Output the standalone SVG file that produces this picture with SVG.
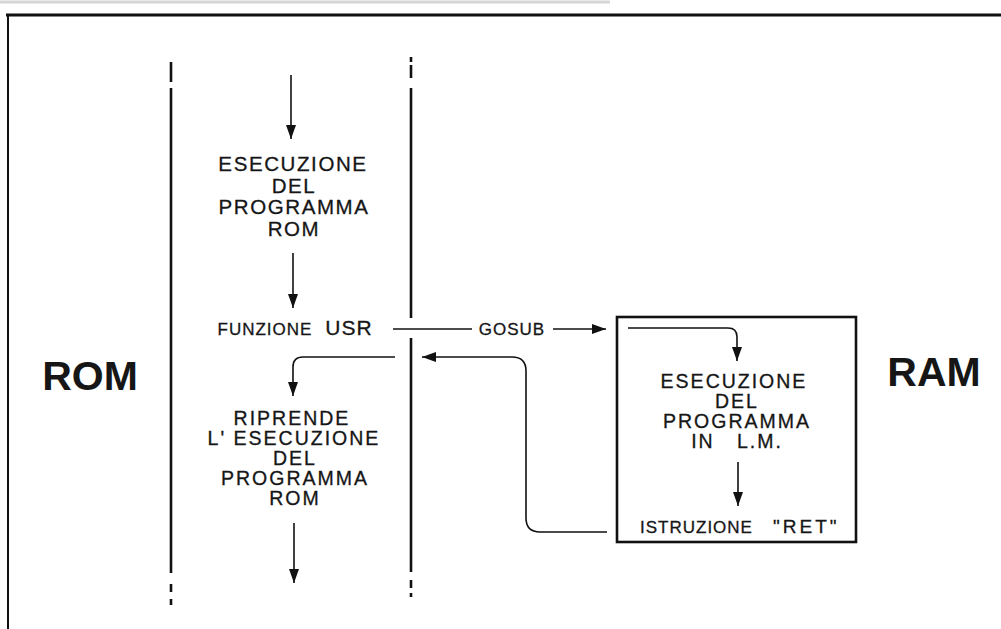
<svg xmlns="http://www.w3.org/2000/svg" width="1001" height="629" viewBox="0 0 1001 629">
<style>
  .ln{stroke:#111;fill:none;stroke-width:1.6}
  .col{stroke:#111;fill:none;stroke-width:2.6}
  .t{font-family:"Liberation Sans",Arial,sans-serif;fill:#161616;stroke:#161616;stroke-width:0.3;text-anchor:middle}
  .st{text-anchor:start}
  .m{font-size:20.5px;letter-spacing:1.6px}
  .n{font-size:19.5px;letter-spacing:2px}
  .s{font-size:17px;letter-spacing:1px}
  .big{font-size:41px;font-weight:bold;stroke-width:0}
</style>
<defs>
  <marker id="ah" markerUnits="userSpaceOnUse" markerWidth="14" markerHeight="10" refX="14" refY="5" orient="auto">
    <path d="M0,0 L14,5 L0,10 z" fill="#111"/>
  </marker>
</defs>
<rect width="1001" height="629" fill="#fff"/>
<line x1="0" y1="2" x2="610" y2="2" stroke="#d6d6d6" stroke-width="3"/>
<g id="frame">
  <line x1="6" y1="15" x2="1001" y2="15" stroke="#111" stroke-width="2.8"/>
  <line x1="8" y1="14" x2="8" y2="629" stroke="#111" stroke-width="2"/>
</g>
<g id="rom-column">
  <line class="col" x1="171" y1="62" x2="171" y2="82"/>
  <line class="col" x1="171" y1="88" x2="171" y2="573"/>
  <line class="col" x1="171" y1="584" x2="171" y2="592"/>
  <line class="col" x1="171" y1="599" x2="171" y2="605"/>
  <line class="col" x1="411" y1="57" x2="411" y2="62"/>
  <line class="col" x1="411" y1="65" x2="411" y2="78"/>
  <line class="col" x1="411" y1="88" x2="411" y2="318"/>
  <line class="col" x1="411" y1="338" x2="411" y2="572"/>
  <line class="col" x1="411" y1="580" x2="411" y2="588"/>
  <line class="col" x1="411" y1="593" x2="411" y2="597"/>
</g>
<g id="label-rom"><text class="t big" x="90" y="390">ROM</text></g>
<g id="label-ram"><text class="t big" x="934" y="386" font-size="44">RAM</text></g>
<g id="node-esecuzione-rom">
  <text class="t m" x="293" y="171">ESECUZIONE</text>
  <text class="t m" x="294" y="193">DEL</text>
  <text class="t m" x="294" y="214">PROGRAMMA</text>
  <text class="t m" x="294" y="236">ROM</text>
</g>
<g id="node-usr">
  <text class="t s" x="265" y="335">FUNZIONE</text>
  <text class="t" x="349" y="335" font-size="21" letter-spacing="1">USR</text>
</g>
<g id="node-riprende">
  <text class="t n" x="292" y="425">RIPRENDE</text>
  <text class="t n" x="294" y="445">L' ESECUZIONE</text>
  <text class="t n" x="295" y="465">DEL</text>
  <text class="t n" x="295" y="485">PROGRAMMA</text>
  <text class="t n" x="295" y="505">ROM</text>
</g>
<g id="node-ram-box">
  <rect x="617" y="317" width="239" height="225" fill="none" stroke="#111" stroke-width="2.6"/>
  <text class="t n" x="734" y="388">ESECUZIONE</text>
  <text class="t n" x="737" y="408">DEL</text>
  <text class="t n" x="737" y="428">PROGRAMMA</text>
  <text class="t n" x="737" y="448">IN&#160;&#160;&#160;L.M.</text>
  <text class="t s st" x="640" y="533">ISTRUZIONE</text>
  <text class="t st" x="773" y="533" font-size="19" letter-spacing="3">"RET"</text>
</g>
<g id="label-gosub"><text class="t s" x="512" y="335">GOSUB</text></g>
<g id="connectors">
  <line class="ln" x1="291" y1="75" x2="291" y2="139" marker-end="url(#ah)"/>
  <line class="ln" x1="293" y1="253" x2="293" y2="308" marker-end="url(#ah)"/>
  <line class="ln" x1="393" y1="329" x2="472" y2="329"/>
  <line class="ln" x1="553" y1="329" x2="606" y2="329" marker-end="url(#ah)"/>
  <path class="ln" d="M628,328 H728 Q737,328 737,337 V361" marker-end="url(#ah)"/>
  <line class="ln" x1="738" y1="462" x2="738" y2="506" marker-end="url(#ah)"/>
  <path class="ln" d="M607,532 H540 Q526,532 526,518 V371 Q526,357 512,357 H422" marker-end="url(#ah)"/>
  <path class="ln" d="M395,357 H303 Q293,357 293,367 V396" marker-end="url(#ah)"/>
  <line class="ln" x1="294" y1="523" x2="294" y2="583" marker-end="url(#ah)"/>
</g>
</svg>
